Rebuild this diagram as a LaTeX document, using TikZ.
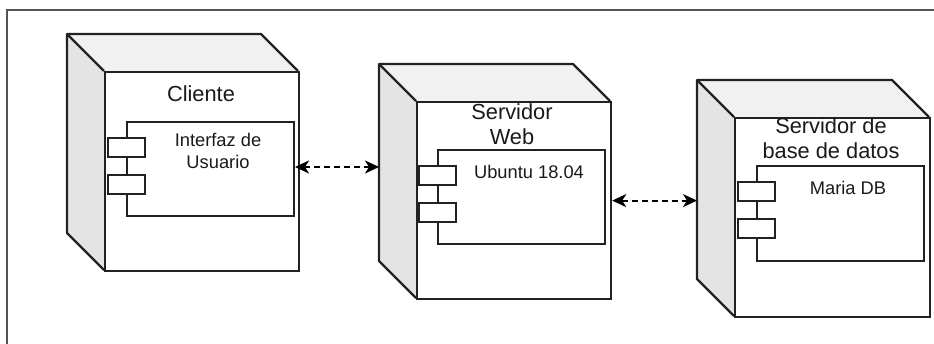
\documentclass[tikz,border=0pt]{standalone}
\usepackage{fontspec}
\setmainfont{Liberation Sans}
\usetikzlibrary{arrows.meta}

\definecolor{edge}{HTML}{222222}
\definecolor{topface}{HTML}{F1F1F1}
\definecolor{sideface}{HTML}{E4E4E4}
\definecolor{framecol}{HTML}{555555}
\definecolor{txt}{HTML}{1A1A1A}

\tikzset{
  front/.style={draw=edge, line width=2.2pt, fill=white, inner sep=0pt},
  face/.style={draw=edge, line width=2.2pt, line join=round},
  comp/.style={draw=edge, line width=2pt, fill=white, inner sep=0pt},
  port/.style={draw=edge, line width=2pt, fill=white, inner sep=0pt,
               minimum width=37pt, minimum height=19pt},
  title/.style={font=\fontsize{21.8}{25}\selectfont, text=txt, align=center, inner sep=0pt},
  label/.style={font=\fontsize{18.3}{22}\selectfont, text=txt, align=center, inner sep=0pt},
  link/.style={line width=2pt, draw=black, dash pattern=on 6pt off 4pt,
               {Stealth[length=14pt,width=13pt,inset=4pt]}-{Stealth[length=14pt,width=13pt,inset=4pt]}},
}

% 3D node box: #1 name, (#2,#3) front top-left, (#4,#5) front bottom-right, #6 depth
\newcommand{\cubebox}[6]{%
  \fill[sideface] (#2,#3) -- (#2-#6,#3-#6) -- (#2-#6,#5-#6) -- (#2,#5) -- cycle;
  \fill[topface] (#2,#3) -- (#2-#6,#3-#6) -- (#4-#6,#3-#6) -- (#4,#3) -- cycle;
  \draw[face] (#2,#5) -- (#2-#6,#5-#6) -- (#2-#6,#3-#6) -- (#4-#6,#3-#6) -- (#4,#3);
  \draw[face] (#2,#3) -- (#2-#6,#3-#6);
  \node[front, minimum width=#4-#2 pt, minimum height=#5-#3 pt, anchor=north west]
    (#1) at (#2,#3) {};
  \coordinate (#1-back) at (#2-#6,#3);
}

% component: #1 name, (#2,#3) top-left, (#4,#5) bottom-right
\newcommand{\compbox}[5]{%
  \node[comp, minimum width=#4-#2 pt, minimum height=#5-#3 pt, anchor=north west]
    (#1) at (#2,#3) {};
  \node[port] (#1-p1) at (#2,#3+26.5) {};
  \node[port] (#1-p2) at (#2,#3+64) {};
}

\begin{document}
\begin{tikzpicture}[x=1pt, y=-1pt]
  \useasboundingbox (0,0) rectangle (934,344);
  \clip (0,0) rectangle (934,344);
  \fill[white] (0,0) rectangle (934,344);

  % surrounding frame
  \draw[framecol, line width=2pt] (7,10) rectangle (960,380);

  % Cliente
  \cubebox{cli}{104}{71}{298}{270}{37}
  \node[title] (cli-t) at (201,94) {Cliente};
  \compbox{ui}{126}{121}{293}{215}
  \node[label, anchor=north] (ui-t) at (218,133) {Interfaz de\\Usuario};

  % Servidor Web
  \cubebox{web}{416}{101}{610}{298}{37}
  \node[title] (web-t) at (512,124.5) {Servidor\\Web};
  \compbox{ubu}{437}{149}{604}{243}
  \node[label] (ubu-t) at (529,172) {Ubuntu 18.04};

  % Servidor de base de datos
  \cubebox{db}{734}{117}{929}{316}{37}
  \node[title] (db-t) at (831,138.5) {Servidor de\\base de datos};
  \compbox{maria}{756}{165}{923}{260}
  \node[label] (maria-t) at (848,188) {Maria DB};

  % links
  \coordinate (webL) at ([yshift=2pt]ui.east -| web-back);
  \draw[link] ([yshift=2pt]ui.east) -- (webL);
  \coordinate (dbL) at (web.east -| db-back);
  \draw[link] (web.east) -- (dbL);
\end{tikzpicture}
\end{document}
